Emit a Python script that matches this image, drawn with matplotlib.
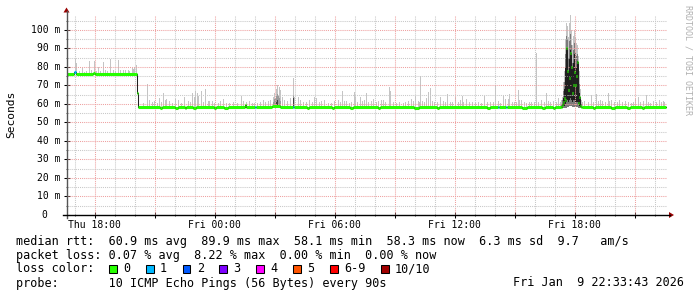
import numpy as np
import matplotlib.pyplot as plt
from matplotlib.lines import Line2D
from matplotlib.patches import Polygon, Rectangle
from matplotlib.transforms import blended_transform_factory

plt.rcParams['font.family'] = 'DejaVu Sans Mono'

W, H = 697, 297

# time axis: 30 h shown, one rrd row = 3 min = one pixel column
START = 16.62   # hours after Thu 00:00 (Thu ~16:37)
STEP = 0.05
SPAN = 30.0
MED_END = 599

xtick_hours = [18, 24, 30, 36, 42]
xtick_labels = ['Thu 18:00', 'Fri 00:00', 'Fri 06:00', 'Fri 12:00', 'Fri 18:00']
ytick_vals = [0, 10, 20, 30, 40, 50, 60, 70, 80, 90, 100]
ytick_labels = ['0', '10 m', '20 m', '30 m', '40 m', '50 m', '60 m', '70 m', '80 m', '90 m', '100 m']

# median rtt (ms) as steps: start row -> value
med_rows = [0, 7, 9, 26, 28, 70, 71, 93, 95, 108, 111, 118, 119, 126, 129,
            147, 149, 157, 161, 178, 179, 188, 189, 205, 213, 226, 227, 240,
            242, 265, 267, 283, 286, 311, 313, 347, 352, 370, 372, 420, 423,
            431, 432, 439, 440, 455, 460, 475, 478, 486, 488,
            494, 495, 496, 497, 498, 499, 500, 501, 502, 503, 504, 505, 506,
            507, 508, 509, 510, 511, 512, 513, 514,
            515, 526, 528, 544, 548, 560, 563, 575, 577]
med_vals = [76.0, 77.3, 76.0, 76.8, 76.0, 66.0, 58.3, 57.8, 58.3, 57.8, 58.3, 57.8, 58.3, 57.8, 58.3,
            57.8, 58.3, 57.8, 58.3, 59.2, 58.3, 58.5, 58.3, 58.8, 58.3, 58.5, 58.3, 57.8,
            58.3, 57.8, 58.3, 57.8, 58.3, 57.8, 58.3, 57.8, 58.3, 57.8, 58.3, 57.8, 58.3,
            58.5, 58.3, 58.5, 58.3, 57.8, 58.3, 57.8, 58.3, 57.8, 58.3,
            58.5, 59.5, 61, 63, 62, 90, 78, 67.6, 74, 87.7, 80, 66, 70,
            77.5, 70.3, 75, 82.9, 60.5, 64, 59, 58.5,
            58.3, 57.8, 58.3, 57.8, 58.3, 57.8, 58.3, 57.8, 58.3]
# rows where one ping of ten was lost
lost_pings = {7: 1, 188: 1, 226: 1, 431: 1, 439: 1}

# smoke: highest ping per row (light grey)
smoke_rows = [8, 9, 12, 15, 17, 19, 22, 24, 27, 29, 31, 33, 36, 38, 40, 43, 46, 48, 51, 53, 56, 58, 61, 62, 65, 66, 67, 69,
              76, 80, 82, 85, 87, 90, 92, 94, 96, 98, 99, 102, 105, 108, 111, 114, 117, 121, 123, 125, 127, 128, 130, 131,
              134, 136, 138, 141, 142, 145, 147, 151, 153, 156, 159, 162, 166, 170, 174, 176, 179, 182, 185, 187, 190, 193,
              196, 198, 201, 203, 206, 207, 209, 210, 212, 213, 215, 217, 220, 223, 226, 227, 231, 233, 236, 239, 242, 245,
              247, 249, 252, 254, 257, 261, 264, 267, 271, 273, 275, 277, 279, 282, 284, 287, 288, 290, 293, 295, 297,
              299, 301, 304, 306, 309, 311, 314, 316, 318, 322, 323, 326, 329, 332, 336, 338, 341, 344, 346, 348, 351, 352,
              353, 355, 357, 359, 361, 363, 365, 367, 370, 373, 376, 378, 380, 383, 385, 388, 391, 393, 395, 396,
              399, 402, 405, 408, 411, 414, 417, 420, 423, 426, 428, 431, 433, 436, 438, 441, 442, 445, 447, 449, 451, 452,
              454, 457, 459, 462, 464, 467, 469, 471, 474, 477, 479, 481, 483, 486, 489, 491, 493,
              515, 517, 521, 524, 526, 529, 531, 533, 535, 538, 541, 542, 544, 547, 550, 552, 555, 558, 561, 564, 566, 568,
              571, 573, 576, 579, 581, 583, 586, 589, 592, 594, 596, 597]
smoke_tops = [84.2, 82.3, 78, 79.3, 77.5, 78, 83.4, 78.5, 83.4, 78, 80.2, 78, 82.9, 78.5, 77.8, 84.3, 78.4, 78, 84, 78.5, 78.4, 78.6, 78.4, 78, 79.4, 79, 80, 81.3,
              60.7, 70.6, 62, 61, 61.5, 60.5, 63, 61, 65.8, 62, 62.7, 61.5, 60.5, 62.7, 62, 60.5, 64, 61.5, 61, 66.1, 64, 67, 66, 64.5,
              67, 61, 68.1, 61.5, 61.5, 61.5, 60.5, 60.8, 61.5, 62.7, 60.5, 60.5, 61, 60.5, 64.3, 61.5, 61, 61.5, 60.5, 60.8, 60.5, 61.2,
              62, 61, 61.5, 62, 64, 66, 68, 70.3, 69, 67.6, 64, 62, 61.5, 63, 73.9, 64, 63.6, 62, 61, 61, 62, 61,
              64, 63, 61, 61.5, 62, 60.8, 60.5, 61.5, 62, 61, 67.2, 61.5, 61.5, 60.8, 61, 66.7, 63.6, 61, 63.6, 61.5, 62,
              66.1, 61, 61.5, 62.7, 61, 61.5, 62, 62, 61, 69.4, 67.2, 61, 60.8, 61, 60.5, 61, 61.5, 62.7, 61.5, 64.3, 61.5, 61,
              75.1, 61.5, 61, 63.3, 66.5, 68.5, 61.5, 61, 61, 64, 61.5, 61, 65.4, 61, 61, 63.6, 61, 62, 64.3, 61,
              62.7, 61, 61, 60.8, 61, 60.5, 64.3, 61, 61, 61, 70.3, 61.5, 60.5, 64.3, 62.7, 62.7, 65.4, 61, 61, 61, 67.6, 62,
              62, 61, 60.5, 61, 61, 61, 87.4, 61, 62, 61, 65.8, 61.5, 61, 61.5, 61, 63, 61,
              61, 61.5, 61, 64.9, 61, 65.4, 61.5, 62, 61.5, 61, 65.8, 61.5, 62, 61, 61, 62, 61, 61.5, 61, 60.8, 61, 62.5,
              64, 61, 61.5, 64.9, 61, 60.5, 61.5, 61, 62, 61, 61.5, 61]
# denser smoke (several pings high) around Fri 05:00
mid_rows = [206, 207, 208, 209, 210, 211, 212, 213, 226]
mid_tops = [61, 62.5, 63.5, 65, 65.5, 64.5, 63, 61.5, 65]
dark_rows = [209, 210, 226]
dark_tops = [61, 62, 63]

# latency burst around Fri 17:30, per row: min / dense low / dense high / upper / max
burst_rows = [494, 495, 496, 497, 498, 499, 500, 501, 502, 503, 504, 505, 506, 507, 508, 509, 510, 511, 512, 513, 514]
burst_min = [58, 58, 58, 58, 58, 58, 58.5, 58.5, 59, 59, 59, 58.5, 58.5, 58.5, 58.5, 58.5, 58.5, 58, 58, 58, 58]
burst_lo = [58.5, 58.5, 59, 59, 60, 61, 62, 61, 62, 63, 62, 61, 62, 62, 61, 61, 61, 60, 59, 58.5, 58.5]
burst_hi = [59, 60, 63, 68, 80, 90, 88, 76, 85, 89, 84, 74, 82, 87, 80, 80, 83, 72, 66, 61, 59]
burst_mid = [60, 62, 67, 72, 87, 97, 95, 85, 94, 98, 92, 82, 89, 93, 88, 86, 87, 78, 71, 64, 60]
burst_max = [62, 64, 72, 78, 95, 104, 102, 96, 104, 108, 100, 92, 97, 100, 96, 93, 92, 86, 78, 68, 62]

loss_labels = ['0', '1', '2', '3', '4', '5', '6-9', '10/10']
loss_colors = ['#26ff00', '#00b8ff', '#0059ff', '#7e00ff', '#ff00ff', '#ff5500', '#ff0000', '#a10000']


def fx(x):
    return x / W


def fy(y):
    return 1 - y / H


def row_t(rows):
    return START + np.asarray(rows, dtype=float) * STEP


def base_at(rows):
    idx = np.searchsorted(med_rows, rows, side='right') - 1
    return np.asarray(med_vals)[idx]


fig = plt.figure(figsize=(W / 100, H / 100), dpi=100)
fig.patch.set_facecolor('white')
ax = fig.add_axes([fx(67), fy(215), 600 / W, 200 / H])
ax.set_xlim(START, START + SPAN)
ax.set_ylim(0, 108.1)
for s in ax.spines.values():
    s.set_visible(False)

# grid (rrdtool draws it over the smoke)
for h in range(17, 47):
    c = '#eea0a0' if h % 3 == 0 else '#c8c8c8'
    ax.axvline(h, color=c, lw=0.75, ls=(0, (1, 1)), zorder=2)
for m in range(5, 110, 5):
    c = '#eea0a0' if m % 10 == 0 else '#c8c8c8'
    ax.axhline(m, color=c, lw=0.75, ls=(0, (1, 1)), zorder=2)

# smoke
sr = np.array(smoke_rows)
sb = base_at(sr)
ax.bar(row_t(sr), np.array(smoke_tops) - sb, bottom=sb, width=STEP, align='edge',
       color='#c4c4c4', linewidth=0, zorder=1)
mr = np.array(mid_rows)
mb = base_at(mr)
ax.bar(row_t(mr), np.array(mid_tops) - mb, bottom=mb, width=STEP, align='edge',
       color='#9a9a9a', linewidth=0, zorder=1.1)
dr = np.array(dark_rows)
db = base_at(dr)
ax.bar(row_t(dr), np.array(dark_tops) - db, bottom=db, width=STEP, align='edge',
       color='#404040', linewidth=0, zorder=1.2)

bt = row_t(burst_rows)
bmin = np.array(burst_min)
ax.bar(bt, np.array(burst_max) - bmin, bottom=bmin, width=STEP, align='edge',
       color='#c4c4c4', linewidth=0, zorder=1)
ax.bar(bt, np.array(burst_mid) - bmin, bottom=bmin, width=STEP, align='edge',
       color='#7a7a7a', linewidth=0, zorder=1.1)
blo = np.array(burst_lo)
ax.bar(bt, np.array(burst_hi) - blo, bottom=blo, width=STEP, align='edge',
       color='#1e1e1e', linewidth=0, zorder=1.2)

# median: thin dark line, then loss coloured segments
edges = list(med_rows) + [MED_END]
ax.step(row_t(edges), list(med_vals) + [med_vals[-1]], where='post',
        color='#202020', lw=0.75, zorder=3)
for i, r in enumerate(med_rows):
    col = loss_colors[lost_pings.get(r, 0)]
    ax.hlines(med_vals[i], row_t(r), row_t(edges[i + 1]), color=col,
              lw=2.2, capstyle='butt', zorder=4)

# ticks
ax.set_xticks(list(range(18, 47, 3)))
ax.set_xticks(list(range(17, 47)), minor=True)
ax.set_yticks(ytick_vals)
ax.set_yticks(list(range(5, 110, 10)), minor=True)
ax.set_xticklabels([])
ax.set_yticklabels([])
ax.tick_params(which='major', length=4, width=0.75, direction='inout', color='black')
ax.tick_params(which='minor', length=2, width=0.75, direction='inout', color='#555555')

tr_y = blended_transform_factory(fig.transFigure, ax.transData)
for v, lab in zip(ytick_vals, ytick_labels):
    xr = fx(47) if v == 0 else fx(60.5)
    ax.text(xr, v, lab, transform=tr_y, ha='right', va='center', fontsize=7.0)
tr_x = blended_transform_factory(ax.transData, fig.transFigure)
for h, lab in zip(xtick_hours, xtick_labels):
    ax.text(h, fy(224.5), lab, transform=tr_x, ha='center', va='center', fontsize=7.0)

# axis lines and arrows
fig.add_artist(Line2D([fx(66.5), fx(66.5)], [fy(218), fy(11)], color='#555555', lw=1.0))
fig.add_artist(Line2D([fx(63), fx(670)], [fy(215), fy(215)], color='black', lw=1.0))
fig.add_artist(Polygon([(fx(63.5), fy(12.5)), (fx(69.5), fy(12.5)), (fx(66.5), fy(7.5))],
                       closed=True, color='#990000', lw=0))
fig.add_artist(Polygon([(fx(669), fy(212)), (fx(669), fy(218)), (fx(674), fy(215))],
                       closed=True, color='#990000', lw=0))

fig.text(fx(11), fy(114), 'Seconds', rotation=90, ha='center', va='center', fontsize=8.1)
fig.text(fx(688), fy(60), 'RRDTOOL / TOBI OETIKER', rotation=270, ha='center', va='center',
         fontsize=6.0, color='#b0b0b0')

# legend
fs = 8.5
fig.text(fx(16), fy(241.5), 'median rtt:  60.9 ms avg  89.9 ms max  58.1 ms min  58.3 ms now  6.3 ms sd  9.7   am/s',
         fontsize=fs, va='center')
fig.text(fx(16), fy(255), 'packet loss: 0.07 % avg  8.22 % max  0.00 % min  0.00 % now',
         fontsize=fs, va='center')
fig.text(fx(16), fy(269), 'loss color:', fontsize=fs, va='center')
box_x = [109, 146, 182.7, 219.3, 256, 293, 330, 381]
for bx, lab, col in zip(box_x, loss_labels, loss_colors):
    fig.add_artist(Rectangle((fx(bx), fy(272.5)), 7.5 / W, 7.5 / H, transform=fig.transFigure,
                             facecolor=col, edgecolor='black', lw=0.75))
    fig.text(fx(bx + 14), fy(269), lab, fontsize=fs, va='center')
fig.text(fx(16), fy(283), 'probe:       10 ICMP Echo Pings (56 Bytes) every 90s',
         fontsize=fs, va='center')
fig.text(fx(513), fy(283), 'Fri Jan  9 22:33:43 2026', fontsize=fs, va='center')

fig.savefig('out.png', dpi=100, facecolor='white')
